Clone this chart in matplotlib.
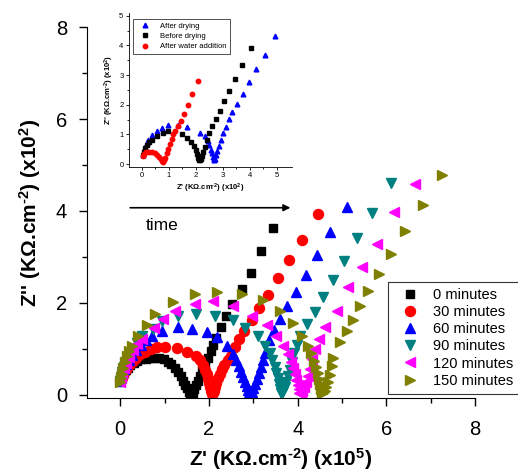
import numpy as np
import matplotlib
matplotlib.use('Agg')
import matplotlib.pyplot as plt

plt.rcParams['font.family'] = ['Liberation Sans', 'DejaVu Sans']
plt.rcParams['mathtext.fontset'] = 'custom'
plt.rcParams['mathtext.rm'] = 'Liberation Sans'
plt.rcParams['mathtext.bf'] = 'Liberation Sans:bold'
plt.rcParams['mathtext.default'] = 'bf'
plt.rcParams['axes.unicode_minus'] = False

# main plot data (Z' x1e5, Z'' x1e2)
x_0 = [0.00, 0.02, 0.05, 0.08, 0.12, 0.17, 0.23, 0.30, 0.38, 0.47, 0.57, 0.67, 0.78, 0.88, 0.98,
       1.07, 1.15, 1.23, 1.30, 1.36, 1.42, 1.47, 1.51, 1.55, 1.58, 1.61, 1.64, 1.67, 1.71, 1.75,
       1.80, 1.85, 1.91, 1.97, 2.04, 2.10, 2.17, 2.27, 2.39, 2.53, 2.74, 2.94, 3.18, 3.45]
y_0 = [0.30, 0.35, 0.41, 0.47, 0.53, 0.59, 0.64, 0.69, 0.73, 0.77, 0.79, 0.81, 0.81, 0.80, 0.77,
       0.72, 0.66, 0.58, 0.49, 0.40, 0.31, 0.22, 0.14, 0.07, 0.02, 0.01, 0.05, 0.12, 0.21, 0.31,
       0.42, 0.54, 0.67, 0.80, 0.95, 1.09, 1.24, 1.48, 1.72, 1.97, 2.30, 2.66, 3.12, 3.63]

x_30 = [0.00, 0.03, 0.06, 0.10, 0.15, 0.21, 0.28, 0.36, 0.45, 0.56, 0.69, 0.83, 1.01, 1.28, 1.51,
        1.71, 1.80, 1.86, 1.91, 1.95, 1.98, 2.01, 2.03, 2.05, 2.07, 2.09, 2.11, 2.14, 2.17, 2.21,
        2.25, 2.30, 2.35, 2.42, 2.50, 2.59, 2.68, 2.79, 2.97, 3.13, 3.33, 3.56, 3.81, 4.10, 4.46]
y_30 = [0.30, 0.37, 0.44, 0.51, 0.58, 0.66, 0.74, 0.81, 0.88, 0.94, 0.99, 1.03, 1.05, 1.02, 0.93,
        0.84, 0.75, 0.65, 0.55, 0.45, 0.35, 0.25, 0.16, 0.08, 0.02, 0.03, 0.09, 0.17, 0.26, 0.36,
        0.46, 0.56, 0.65, 0.75, 0.85, 1.04, 1.22, 1.39, 1.63, 1.89, 2.17, 2.54, 2.93, 3.37, 3.93]

x_60 = [0.00, 0.02, 0.05, 0.09, 0.14, 0.20, 0.27, 0.36, 0.46, 0.57, 0.72, 0.95, 1.31, 1.62, 1.96,
        2.18, 2.41, 2.54, 2.62, 2.68, 2.73, 2.77, 2.81, 2.85, 2.88, 2.91, 2.94, 2.97, 3.00, 3.04,
        3.08, 3.12, 3.17, 3.22, 3.27, 3.36, 3.47, 3.60, 3.76, 3.96, 4.19, 4.44, 4.73, 5.11]
y_60 = [0.30, 0.38, 0.47, 0.56, 0.66, 0.76, 0.87, 0.98, 1.09, 1.19, 1.28, 1.39, 1.48, 1.43, 1.37,
        1.26, 1.07, 0.89, 0.75, 0.62, 0.50, 0.39, 0.29, 0.19, 0.10, 0.04, 0.02, 0.06, 0.14, 0.24,
        0.35, 0.47, 0.60, 0.75, 0.92, 1.20, 1.41, 1.65, 1.93, 2.24, 2.61, 3.04, 3.54, 4.09]

x_90 = [0.00, 0.02, 0.05, 0.09, 0.14, 0.20, 0.28, 0.38, 0.50, 0.74, 0.95, 1.31, 1.71, 2.14, 2.55,
        2.82, 3.11, 3.27, 3.37, 3.43, 3.48, 3.52, 3.55, 3.58, 3.60, 3.62, 3.65, 3.68, 3.71, 3.74,
        3.78, 3.82, 3.87, 3.92, 3.98, 4.05, 4.21, 4.39, 4.58, 4.80, 5.05, 5.33, 5.68, 6.10]
y_90 = [0.30, 0.39, 0.49, 0.60, 0.72, 0.85, 0.99, 1.13, 1.27, 1.43, 1.61, 1.72, 1.76, 1.72, 1.63,
        1.46, 1.28, 1.07, 0.90, 0.75, 0.61, 0.48, 0.36, 0.24, 0.13, 0.05, 0.03, 0.08, 0.17, 0.28,
        0.40, 0.54, 0.72, 0.90, 1.09, 1.28, 1.54, 1.80, 2.13, 2.50, 2.92, 3.41, 3.96, 4.61]

x_120 = [0.00, 0.02, 0.05, 0.09, 0.14, 0.20, 0.28, 0.38, 0.50, 0.75, 0.97, 1.24, 1.69, 2.10, 2.54,
         2.97, 3.31, 3.51, 3.67, 3.78, 3.85, 3.90, 3.94, 3.97, 4.00, 4.02, 4.04, 4.07, 4.10, 4.14,
         4.18, 4.23, 4.28, 4.33, 4.39, 4.48, 4.62, 4.89, 5.14, 5.45, 5.79, 6.17, 6.64]
y_120 = [0.28, 0.37, 0.47, 0.58, 0.70, 0.83, 0.97, 1.10, 1.22, 1.45, 1.65, 1.83, 1.98, 2.04, 1.94,
         1.72, 1.52, 1.28, 1.07, 0.88, 0.72, 0.58, 0.45, 0.33, 0.22, 0.12, 0.05, 0.03, 0.08, 0.17,
         0.28, 0.42, 0.57, 0.77, 1.00, 1.22, 1.48, 1.83, 2.35, 2.78, 3.28, 3.98, 4.59]

x_150 = [0.00, 0.02, 0.04, 0.07, 0.11, 0.15, 0.19, 0.27, 0.41, 0.61, 0.79, 1.19, 1.69, 2.18, 2.75,
         3.21, 3.60, 3.90, 4.10, 4.23, 4.31, 4.37, 4.42, 4.45, 4.48, 4.51, 4.53, 4.55, 4.58, 4.61,
         4.65, 4.69, 4.73, 4.77, 4.80, 4.95, 5.11, 5.25, 5.41, 5.59, 5.83, 6.10, 6.42, 6.82, 7.25]
y_150 = [0.27, 0.36, 0.46, 0.58, 0.72, 0.85, 0.96, 1.07, 1.28, 1.52, 1.76, 2.02, 2.20, 2.24, 2.20,
         2.06, 1.82, 1.57, 1.29, 1.07, 0.90, 0.74, 0.60, 0.47, 0.35, 0.23, 0.13, 0.05, 0.03, 0.08,
         0.17, 0.29, 0.44, 0.62, 0.80, 1.15, 1.39, 1.63, 1.93, 2.26, 2.63, 3.07, 3.57, 4.13, 4.78]

labels = ['0 minutes', '30 minutes', '60 minutes', '90 minutes', '120 minutes', '150 minutes']

# inset data (x1e2)
xi_after = [0.04, 0.07, 0.12, 0.18, 0.25, 0.37, 0.55, 0.77, 0.98, 1.35, 1.66, 2.15, 2.34, 2.44, 2.51,
            2.56, 2.60, 2.63, 2.66, 2.69, 2.72, 2.76, 2.80, 2.85, 2.92, 3.01, 3.11, 3.22, 3.36, 3.54,
            3.75, 3.97, 4.24, 4.58, 4.94]
yi_after = [0.31, 0.45, 0.59, 0.70, 0.81, 0.98, 1.12, 1.21, 1.32, 1.32, 1.26, 1.06, 0.93, 0.78, 0.63,
            0.49, 0.36, 0.25, 0.16, 0.12, 0.18, 0.30, 0.45, 0.62, 0.82, 1.06, 1.26, 1.51, 1.74, 2.02,
            2.36, 2.76, 3.21, 3.69, 4.32]
xi_before = [0.05, 0.09, 0.13, 0.18, 0.27, 0.37, 0.55, 0.80, 0.98, 1.48, 1.68, 1.84, 1.94, 2.01, 2.06,
             2.10, 2.13, 2.16, 2.19, 2.23, 2.28, 2.33, 2.40, 2.49, 2.62, 2.74, 2.89, 3.05, 3.22, 3.44,
             3.73, 4.06]
yi_before = [0.30, 0.42, 0.54, 0.64, 0.73, 0.81, 0.95, 1.04, 1.10, 1.01, 0.89, 0.75, 0.60, 0.46, 0.33,
             0.22, 0.14, 0.12, 0.17, 0.28, 0.42, 0.58, 0.80, 1.06, 1.29, 1.53, 1.80, 2.11, 2.47, 2.87,
             3.34, 3.92]
xi_water = [0.05, 0.10, 0.17, 0.27, 0.38, 0.48, 0.57, 0.64, 0.70, 0.75, 0.80, 0.84, 0.88, 0.93, 0.99,
            1.05, 1.11, 1.17, 1.25, 1.35, 1.45, 1.57, 1.72, 1.88, 2.07]
yi_water = [0.28, 0.35, 0.40, 0.42, 0.41, 0.38, 0.32, 0.25, 0.17, 0.10, 0.07, 0.12, 0.22, 0.36, 0.52,
            0.68, 0.86, 1.01, 1.12, 1.29, 1.46, 1.69, 2.00, 2.36, 2.79]

fig = plt.figure(figsize=(5.18, 4.75), dpi=100)
ax = fig.add_axes([0.168, 0.162, 0.749, 0.781])

series = [(x_0, y_0, 's', 'black', 6.2), (x_30, y_30, 'o', 'red', 7.2), (x_60, y_60, '^', 'blue', 7.2),
          (x_90, y_90, 'v', '#008080', 7.2), (x_120, y_120, '<', '#ff00ff', 7.2),
          (x_150, y_150, '>', '#808000', 7.2)]
for (xs, ys, m, c, ms), lab in zip(series, labels):
    ax.plot(xs, ys, linestyle='none', marker=m, color=c, markersize=ms, label=lab)

ax.set_xlim(-0.75, 8)
ax.set_ylim(-0.07, 8)
ax.set_xticks([0, 2, 4, 6, 8])
ax.set_yticks([0, 2, 4, 6, 8])
ax.set_xticks([1, 3, 5, 7], minor=True)
ax.set_yticks([1, 3, 5, 7], minor=True)
ax.tick_params(which='major', direction='out', length=6, width=1, labelsize=14.5)
ax.tick_params(axis='x', which='major', pad=10)
ax.tick_params(axis='y', which='major', pad=8.5)
ax.tick_params(which='minor', direction='out', length=3.5, width=1)
ax.spines['top'].set_visible(False)
ax.spines['right'].set_visible(False)

# hyphen (U+2010) so the exponent sign looks like the short dash of the original
sup_m2 = "$^{\u2010 2}$"
ax.set_xlabel("Z' (KΩ.cm" + sup_m2 + ") (x10$^{5}$)", fontsize=15, fontweight='bold', labelpad=5)
ax.set_ylabel("Z'' (KΩ.cm" + sup_m2 + ") (x10$^{2}$)", fontsize=15, fontweight='bold', labelpad=9)

ax.annotate('', xy=(3.9, 4.07), xytext=(0.16, 4.07),
            arrowprops=dict(arrowstyle='-|>', color='black', lw=1.2, mutation_scale=10))
ax.text(0.95, 3.68, 'time', fontsize=12.5, ha='center', va='center')

leg = ax.legend(loc='lower left', bbox_to_anchor=(0.776, 0.012), fontsize=10.5,
                frameon=True, fancybox=False, edgecolor='black', borderaxespad=0,
                labelspacing=0.22, handletextpad=0.5, handlelength=2.2, borderpad=0.4)
leg.get_frame().set_linewidth(0.8)

# inset
axi = fig.add_axes([0.249, 0.649, 0.315, 0.324])
axi.plot(xi_after, yi_after, linestyle='none', marker='^', color='blue', markersize=3.4,
         label='After drying')
axi.plot(xi_before, yi_before, linestyle='none', marker='s', color='black', markersize=3,
         label='Before drying')
axi.plot(xi_water, yi_water, linestyle='none', marker='o', color='red', markersize=3.2,
         label='After water addition')
axi.set_xlim(-0.47, 5.57)
axi.set_ylim(-0.09, 5.1)
axi.set_xticks(range(6))
axi.set_yticks(range(6))
axi.set_xticks(np.arange(0.5, 5.5, 1), minor=True)
axi.set_yticks(np.arange(0.5, 5.5, 1), minor=True)
axi.tick_params(which='major', direction='out', length=2.5, width=0.6, labelsize=5.5, pad=1.5)
axi.tick_params(which='minor', direction='out', length=1.5, width=0.6)
axi.spines['top'].set_visible(False)
axi.spines['right'].set_visible(False)
for s in axi.spines.values():
    s.set_linewidth(0.6)
axi.set_xlabel("Z' (KΩ.cm" + sup_m2 + ") (x10$^{2}$)", fontsize=5.5, fontweight='bold', labelpad=1.5)
axi.set_ylabel("Z'' (KΩ.cm" + sup_m2 + ") (x10$^{2}$)", fontsize=5.5, fontweight='bold', labelpad=2)
li = axi.legend(loc='upper left', bbox_to_anchor=(0.025, 0.96), fontsize=5.5, frameon=True,
                fancybox=False, edgecolor='black', borderaxespad=0, labelspacing=0.35,
                handletextpad=1.0, handlelength=2.0, borderpad=0.5)
li.get_frame().set_linewidth(0.6)

fig.savefig('out.png', dpi=100)
